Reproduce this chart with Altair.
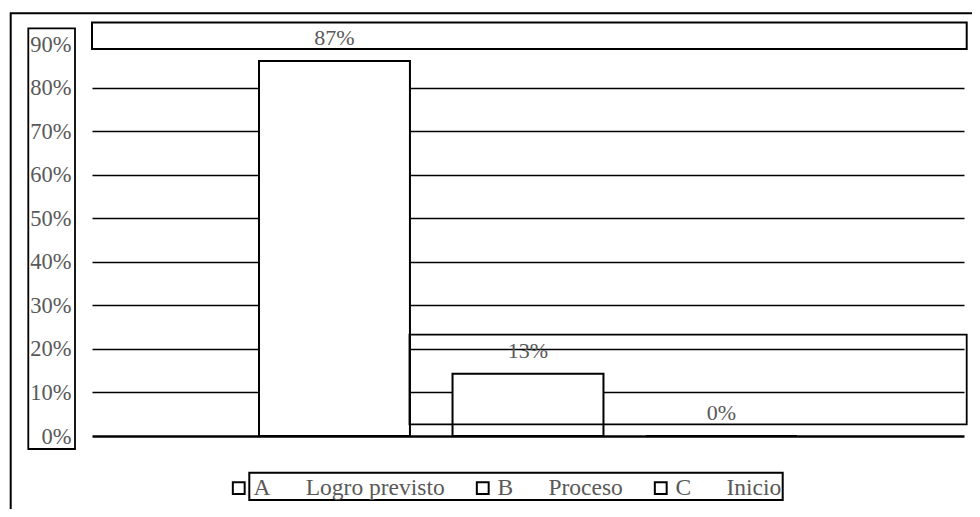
import altair as alt
import pandas as pd

# ---- data ----
series_codes = ["A", "B", "C"]
series_names = ["Logro previsto", "Proceso", "Inicio"]
bar_values = [0.861, 0.143, 0.0]
bar_labels = ["87%", "13%", "0%"]
y_ticks = [0, 0.1, 0.2, 0.3, 0.4, 0.5, 0.6, 0.7, 0.8, 0.9]

gap = "\u00a0" * 6
series = [c + gap + n for c, n in zip(series_codes, series_names)]

df = pd.DataFrame({"serie": series, "valor": bar_values, "etiqueta": bar_labels})

FONT = "Liberation Serif"
GREY = "#595959"

W, H = 872, 392

base = alt.Chart(df)

bars = base.mark_bar(stroke="black", strokeWidth=2).encode(
    x=alt.X("serie:N", sort=series,
            scale=alt.Scale(domain=series, paddingInner=0.22, paddingOuter=0.863),
            axis=None),
    y=alt.Y("valor:Q",
            scale=alt.Scale(domain=[0, 0.9], nice=False),
            axis=alt.Axis(values=y_ticks, format=".0%", title=None, ticks=False,
                          domain=False, labelPadding=21, labelFont=FONT,
                          labelFontSize=22.5, labelColor=GREY, gridColor="black",
                          gridOpacity=1,
                          gridWidth={"condition": {"test": "datum.value === 0", "value": 2.6},
                                     "value": 1.6})),
    fill=alt.Fill("serie:N",
                  scale=alt.Scale(domain=series, range=["white", "white", "white"]),
                  legend=alt.Legend(orient="none", legendX=135, legendY=432,
                                    direction="horizontal", title=None,
                                    symbolType="square", symbolSize=140,
                                    symbolStrokeColor="black", symbolStrokeWidth=2,
                                    symbolFillColor="white", labelFont=FONT,
                                    labelFontSize=23.5, labelColor=GREY,
                                    columnPadding=26, labelOffset=3, padding=0,
                                    labelLimit=0)),
)

one = alt.Data(values=[{"k": 1}])

def box(x1, x2, y1, y2, fill=None, sw=2):
    kw = dict(stroke="black", strokeWidth=sw)
    if fill:
        kw["fill"] = fill
    else:
        kw["fillOpacity"] = 0
    return alt.Chart(one).mark_rect(**kw).encode(
        x=alt.value(x1), x2=alt.value(x2), y=alt.value(y1), y2=alt.value(y2))

top_box = box(0, 874.7, -21.5, 5, fill="white")
mid_box = box(317.5, 874.7, 290.7, 380.3, sw=1.8)
ylab_box = box(-63.7, -17, -15.7, 405, sw=1.8)
outer_box = box(-81.3, 1000, -30.7, 600, sw=2)
legend_box = box(157.3, 690.7, 428.7, 456, sw=2)

labels = base.mark_text(font=FONT, fontSize=22, color=GREY, baseline="middle",
                        dy=-23).encode(
    x=alt.X("serie:N", sort=series),
    y=alt.Y("valor:Q"),
    text="etiqueta:N",
)

chart = alt.layer(bars, top_box, labels, mid_box, ylab_box, outer_box, legend_box).properties(
    width=W, height=H,
    padding={"left": 84, "top": 36, "right": 8, "bottom": 73},
    autosize=alt.AutoSizeParams(type="none"),
).configure_view(stroke=None)

chart.save("out.html", embed_options={"renderer": "svg", "actions": False})
